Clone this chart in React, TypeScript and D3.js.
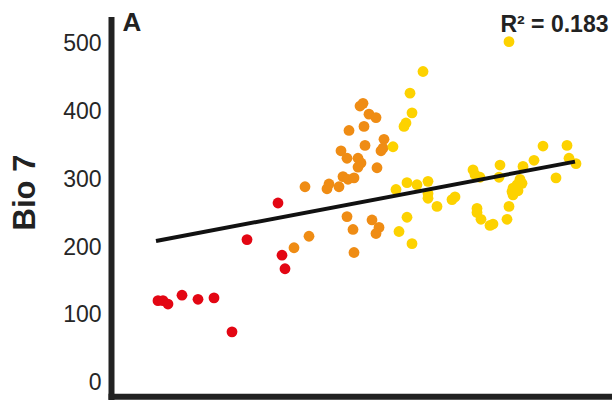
import React from "react";
import * as d3 from "d3";

const redX = [46, 51, 56, 70, 86, 102, 120, 135, 166, 170, 173];
const redY = [120, 120, 115, 128, 122, 124, 74, 210, 264, 187, 167];

const orangeX = [182, 197, 193, 215, 217, 227, 231, 236, 242, 229, 235, 246, 249, 246, 237, 252, 253, 248, 251, 257, 264, 272, 269, 271, 265, 235, 241, 260, 267, 264, 242];
const orangeY = [198, 215, 288, 285, 292, 288, 303, 299, 301, 341, 330, 330, 323, 317, 371, 377, 349, 407, 411, 395, 390, 358, 341, 345, 316, 244, 225, 239, 228, 219, 191];

const yellowX = [281, 284, 295, 305, 316, 316, 316, 325, 340, 343, 295, 287, 300, 311, 298, 300, 294, 292, 361, 363, 368, 365, 365, 369, 378, 381, 388, 387, 397, 395, 397, 411, 408, 410, 405, 401, 400, 401, 406, 422, 431, 444, 455, 457, 464];
const yellowY = [347, 284, 294, 291, 296, 278, 271, 259, 269, 273, 243, 222, 204, 458, 426, 397, 382, 377, 313, 306, 302, 256, 250, 240, 231, 233, 320, 302, 502, 240, 259, 318, 299, 293, 291, 286, 281, 276, 282, 327, 348, 301, 349, 330, 322];

const trendX = [44, 463];
const trendY = [208, 325];

const yTicks = [0, 100, 200, 300, 400, 500];

const W = 612;
const H = 401;

export default function App() {
  const x = d3.scaleLinear().domain([0, 500]).range([112, 612]);
  const y = d3.scaleLinear().domain([0, 500]).range([382, 43]);

  const series = [
    { xs: redX, ys: redY, color: "#e30613" },
    { xs: orangeX, ys: orangeY, color: "#ef8c14" },
    { xs: yellowX, ys: yellowY, color: "#fdd200" },
  ];

  const line = d3
    .line<number>()
    .x((_, i) => x(trendX[i]))
    .y((d) => y(d));

  const font = "Arial, 'Liberation Sans', Helvetica, sans-serif";

  return (
    <svg
      width={W}
      height={H}
      style={{ position: "absolute", left: 0, top: 0, background: "#fff" }}
      fontFamily={font}
    >
      {yTicks.map((t) => (
        <text
          key={t}
          x={101.5}
          y={y(t)}
          dy="0.36em"
          textAnchor="end"
          fontSize={23}
          fill="#262626"
        >
          {t}
        </text>
      ))}
      <text
        transform={`translate(35,192.5) rotate(-90)`}
        textAnchor="middle"
        fontSize={31}
        fontWeight="bold"
        fill="#222"
      >
        Bio 7
      </text>
      {series.map((s, si) =>
        s.xs.map((xv, i) => (
          <circle
            key={`${si}-${i}`}
            cx={x(xv)}
            cy={y(s.ys[i])}
            r={5.4}
            fill={s.color}
          />
        ))
      )}
      <path d={line(trendY) || ""} stroke="#111" strokeWidth={4} fill="none" />
      <line x1={111.5} x2={111.5} y1={17} y2={400} stroke="#222" strokeWidth={6} />
      <line x1={108.5} x2={612} y1={396.7} y2={396.7} stroke="#222" strokeWidth={6} />
      <text x={122.5} y={31} fontSize={26} fontWeight="bold" fill="#222">
        A
      </text>
      <text x={608.5} y={31.5} textAnchor="end" fontSize={23} fontWeight="bold" fill="#222">
        R² = 0.183
      </text>
    </svg>
  );
}
